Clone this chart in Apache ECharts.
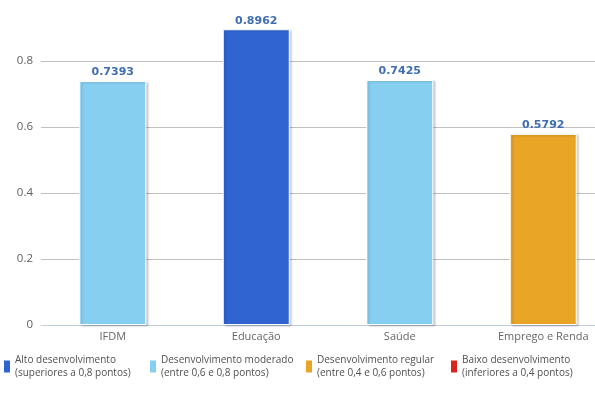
<!DOCTYPE html>
<html lang="pt">
<head>
    <meta charset="UTF-8">
    <title>IFDM</title>
    <script src="https://cdn.jsdelivr.net/npm/echarts@6/dist/echarts.min.js"></script>
</head>
<body style="margin:0;overflow:hidden">
<div id="chart" style="width: 620px;height: 397px;"></div>
<script>
    // dados
    var categorias = ['IFDM', 'Educação', 'Saúde', 'Emprego e Renda'];
    var valores = [0.7393, 0.8962, 0.7425, 0.5792];
    // faixa de cada categoria (índice na lista de faixas)
    var faixaDaCategoria = [1, 0, 1, 2];
    var faixas = [
        'Alto desenvolvimento\n(superiores a 0,8 pontos)',
        'Desenvolvimento moderado\n(entre 0,6 e 0,8 pontos)',
        'Desenvolvimento regular\n(entre 0,4 e 0,6 pontos)',
        'Baixo desenvolvimento\n(inferiores a 0,4 pontos)'
    ];
    var cores = ['#2f64d1', '#86cff0', '#e8a526', '#d7261e'];
    var legendaEsquerda = [4, 150, 306, 451];

    var fonte = 'Open Sans';
    var dom = document.getElementById('chart');
    var myChart = echarts.init(dom);

    var series = faixas.map(function (nome, f) {
        return {
            name: nome,
            type: 'bar',
            stack: 'total',
            barWidth: 67,
            data: valores.map(function (v, i) {
                return faixaDaCategoria[i] === f ? v : null;
            }),
            itemStyle: {
                color: cores[f],
                borderColor: '#ffffff',
                borderWidth: 1,
                shadowColor: 'rgba(0,0,0,0.18)',
                shadowBlur: 2,
                shadowOffsetX: 2,
                shadowOffsetY: 1
            },
            label: {
                show: true,
                position: 'top',
                distance: 3,
                color: '#3e6eaf',
                fontFamily: 'DejaVu Sans',
                fontWeight: 'bold',
                fontSize: 11,
                formatter: function (p) { return p.value.toFixed(4); }
            },
            emphasis: { disabled: true }
        };
    });

    var legendas = faixas.map(function (nome, f) {
        return {
            data: [{ name: nome, itemStyle: { borderWidth: 0 } }],
            left: legendaEsquerda[f],
            top: 354,
            padding: 0,
            icon: 'rect',
            itemWidth: 6,
            itemHeight: 12,
            selectedMode: false,
            textStyle: {
                color: '#505050',
                fontFamily: fonte,
                fontSize: 10,
                lineHeight: 12.5
            }
        };
    });

    var option = {
        animation: false,
        color: cores,
        grid: { left: 41, right: 5, top: 28, bottom: 72 },
        legend: legendas,
        xAxis: {
            type: 'category',
            data: categorias,
            axisLine: { lineStyle: { color: '#c0d0e0' } },
            axisTick: { length: 5, lineStyle: { color: '#c0d0e0' } },
            axisLabel: { color: '#666666', fontFamily: fonte, fontSize: 11, margin: 6 }
        },
        yAxis: {
            type: 'value',
            min: 0,
            max: 0.9,
            interval: 0.2,
            axisLine: { show: false },
            axisTick: { show: false },
            axisLabel: {
                color: '#606060', fontFamily: fonte, fontSize: 11.5, margin: 8,
                formatter: function (v) { return v > 0.85 ? '' : String(Math.round(v * 10) / 10); }
            },
            // a última linha (0.9) fica invisível
            splitLine: { lineStyle: { color: ['#c0c0c0', '#c0c0c0', '#c0c0c0', '#c0c0c0', '#c0c0c0', 'rgba(0,0,0,0)'] } }
        },
        series: series
    };

    myChart.setOption(option);
</script>
</body>
</html>
